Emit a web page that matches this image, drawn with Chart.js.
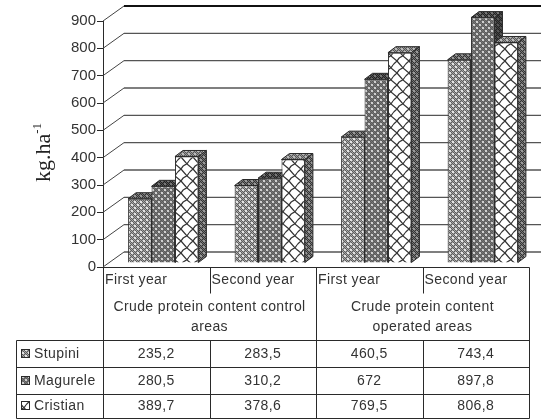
<!DOCTYPE html>
<html>
<head>
<meta charset="utf-8">
<style>
  html, body { margin: 0; padding: 0; background: #fff; }
  #wrap { position: relative; width: 541px; height: 419px; }
</style>
<script src="https://cdn.jsdelivr.net/npm/chart.js@4/dist/chart.umd.min.js"></script>
</head>
<body>
<div id="wrap"><canvas id="chart" width="541" height="419"></canvas></div>
<script>
const seriesNames = ['Stupini', 'Magurele', 'Cristian'];
const years = ['First year', 'Second year', 'First year', 'Second year'];
const stupini = [235.2, 283.5, 460.5, 743.4];
const magurele = [280.5, 310.2, 672, 897.8];
const cristian = [389.7, 378.6, 769.5, 806.8];
const groupLabels = [
  { text: ['Crude protein content control', 'areas'], from: 0, to: 2 },
  { text: ['Crude protein content', 'operated areas'], from: 2, to: 4 }
];

const ink = '#2a2a2a';
const textColor = '#333';

// Small tile patterns, the old Excel-style hatches
function tile(w, h, draw) {
  const c = document.createElement('canvas');
  c.width = w; c.height = h;
  draw(c.getContext('2d'));
  return c.getContext('2d').createPattern(c, 'repeat');
}

function dots(bg, dark, light) {
  return tile(6, 6, g => {
    g.fillStyle = bg; g.fillRect(0, 0, 6, 6);
    g.fillStyle = dark;
    for (let y = 0; y < 6; y++) for (let x = 0; x < 6; x++) if ((x + y) % 2 === 0) g.fillRect(x, y, 1, 1);
    g.fillStyle = light;
    g.fillRect(1, 1, 2, 2);
    g.fillRect(4, 4, 2, 2);
  });
}

function waves(bg, line) {
  return tile(12, 12, g => {
    g.fillStyle = bg; g.fillRect(0, 0, 12, 12);
    g.strokeStyle = line; g.lineWidth = 1.2;
    g.beginPath();
    g.moveTo(0, 0); g.lineTo(6, 5); g.lineTo(12, 12);
    g.moveTo(6, 5); g.quadraticCurveTo(8, 1, 12, 0);
    g.moveTo(0, 12); g.quadraticCurveTo(2, 8, 6, 5);
    g.stroke();
  });
}

const fronts = [dots('#a8a8a8', '#5c5c5c', '#e4e4e4'), dots('#777', '#5a5a5a', '#d0d0d0'), waves('#fff', '#333')];
const tops = [dots('#777', '#333', '#999'), dots('#555', '#222', '#777'), dots('#999', '#555', '#bbb')];
const sides = [dots('#666', '#333', '#888'), dots('#444', '#222', '#555'), dots('#777', '#333', '#999')];

// Bars sit a little inside the 3D floor
const barShiftX = 7, barShiftY = -4;
const depthX = 8, depthY = -6;
// Back wall offset from the front axis
const wallX = 21, wallY = -15;

const backWall = {
  id: 'backWall',
  beforeDatasetsDraw(chart) {
    const { ctx, scales: { y }, chartArea: { left } } = chart;
    ctx.save();
    y.ticks.forEach(t => {
      const py = y.getPixelForValue(t.value);
      ctx.lineWidth = 1;
      ctx.strokeStyle = '#444';
      ctx.beginPath();
      ctx.moveTo(left, py);
      ctx.lineTo(left + wallX, py + wallY);
      ctx.stroke();
      ctx.lineWidth = t.value === 900 ? 2 : 1.3;
      ctx.strokeStyle = t.value === 900 ? '#111' : '#555';
      ctx.beginPath();
      ctx.moveTo(left + wallX, py + wallY);
      ctx.lineTo(chart.width, py + wallY);
      ctx.stroke();
    });
    ctx.restore();
  }
};

function face(ctx, pts, fill) {
  ctx.beginPath();
  pts.forEach((p, i) => i ? ctx.lineTo(p[0], p[1]) : ctx.moveTo(p[0], p[1]));
  ctx.closePath();
  ctx.fillStyle = fill;
  ctx.fill();
  ctx.lineWidth = 1;
  ctx.strokeStyle = ink;
  ctx.stroke();
}

// Top and side faces all go down first, the library's fronts then cover them
const bars3d = {
  id: 'bars3d',
  beforeDatasetsDraw(chart) {
    const ctx = chart.ctx;
    ctx.save();
    ctx.translate(barShiftX, barShiftY);
    seriesNames.forEach((name, s) => {
      chart.getDatasetMeta(s).data.forEach(bar => {
        const p = bar.getProps(['x', 'y', 'base', 'width']);
        const l = p.x - p.width / 2, r = p.x + p.width / 2;
        face(ctx, [[l, p.y], [l + depthX, p.y + depthY], [r + depthX, p.y + depthY], [r, p.y]], tops[s]);
        face(ctx, [[r, p.y], [r + depthX, p.y + depthY], [r + depthX, p.base + depthY], [r, p.base]], sides[s]);
      });
    });
    ctx.restore();
  },
  beforeDatasetDraw(chart) {
    chart.ctx.save();
    chart.ctx.translate(barShiftX, barShiftY);
  },
  afterDatasetDraw(chart) {
    chart.ctx.restore();
  }
};

const lines = {
  rowTops: [340, 367, 393.5],
  bottom: 418,
  tableLeft: 16,
  headRule: 293
};

function sharp(v) { return Math.round(v) + 0.5; }

function segment(ctx, x1, y1, x2, y2) {
  ctx.beginPath();
  ctx.moveTo(sharp(x1), sharp(y1));
  ctx.lineTo(sharp(x2), sharp(y2));
  ctx.stroke();
}

function fmt(v) { return String(v).replace('.', ','); }

const dataTable = {
  id: 'dataTable',
  afterDraw(chart) {
    const { ctx, chartArea: { left, right, bottom } } = chart;
    const xs = chart.scales.x;
    const col = i => left + (right - left) * i / years.length;
    const tableRows = [stupini, magurele, cristian];
    ctx.save();
    ctx.strokeStyle = ink;
    ctx.lineWidth = 1;

    segment(ctx, left, bottom, right, bottom);
    segment(ctx, left, bottom, left, lines.bottom);
    segment(ctx, right, bottom, right, lines.bottom);
    segment(ctx, col(2), bottom, col(2), lines.bottom);
    [1, 3].forEach(i => {
      segment(ctx, col(i), bottom, col(i), lines.headRule);
      segment(ctx, col(i), lines.rowTops[0], col(i), lines.bottom);
    });
    lines.rowTops.concat(lines.bottom).forEach(y => segment(ctx, lines.tableLeft, y, right, y));
    segment(ctx, lines.tableLeft, lines.rowTops[0], lines.tableLeft, lines.bottom);

    ctx.fillStyle = textColor;
    ctx.font = '14px "Liberation Sans"';
    ctx.letterSpacing = '0.4px';
    ctx.textBaseline = 'middle';

    ctx.textAlign = 'left';
    years.forEach((label, i) => ctx.fillText(label, col(i) + 2, 280));

    ctx.textAlign = 'center';
    groupLabels.forEach(g => {
      const cx = (col(g.from) + col(g.to)) / 2;
      g.text.forEach((t, i) => ctx.fillText(t, cx, 307 + i * 20));
    });

    tableRows.forEach((row, r) => {
      const top = lines.rowTops[r];
      const next = r < 2 ? lines.rowTops[r + 1] : lines.bottom;
      const cy = (top + next) / 2 + 0.5;
      row.forEach((v, i) => ctx.fillText(fmt(v), xs.getPixelForValue(i), cy));

      ctx.textAlign = 'left';
      ctx.fillText(seriesNames[r], 34, cy);
      ctx.textAlign = 'center';

      ctx.fillStyle = fronts[r];
      ctx.fillRect(21.5, Math.round(cy) - 4.5, 8, 8);
      ctx.strokeRect(21.5, Math.round(cy) - 4.5, 8, 8);
      ctx.fillStyle = textColor;
    });
    ctx.restore();

    // Axis title, with the raised -1
    ctx.save();
    ctx.translate(50, 182);
    ctx.rotate(-Math.PI / 2);
    ctx.fillStyle = '#222';
    ctx.textAlign = 'left';
    ctx.textBaseline = 'alphabetic';
    ctx.font = '22px "Liberation Serif"';
    ctx.fillText('kg.ha', 0, 0);
    const w = ctx.measureText('kg.ha').width;
    ctx.font = '13px "Liberation Serif"';
    ctx.fillText('-1', w, -9);
    ctx.restore();
  }
};

new Chart(document.getElementById('chart'), {
  type: 'bar',
  data: {
    labels: years,
    datasets: [stupini, magurele, cristian].map((values, i) => ({
      label: seriesNames[i],
      data: values,
      backgroundColor: fronts[i],
      borderColor: ink,
      borderWidth: 1,
      clip: false
    }))
  },
  options: {
    responsive: false,
    animation: false,
    layout: { padding: { left: 0, right: 12, top: 21, bottom: 152 } },
    datasets: { bar: { categoryPercentage: 0.66, barPercentage: 1 } },
    plugins: { legend: { display: false }, tooltip: { enabled: false } },
    scales: {
      x: { display: false, grid: { display: false } },
      y: {
        min: 0,
        max: 900,
        afterFit(scale) { scale.width = 103; },
        ticks: {
          stepSize: 100,
          color: textColor,
          padding: 1,
          font: { family: '"Liberation Sans"', size: 15 }
        },
        grid: { drawOnChartArea: false, tickLength: 6, color: ink },
        border: { color: ink, width: 1 }
      }
    }
  },
  plugins: [backWall, bars3d, dataTable]
});
</script>
</body>
</html>
